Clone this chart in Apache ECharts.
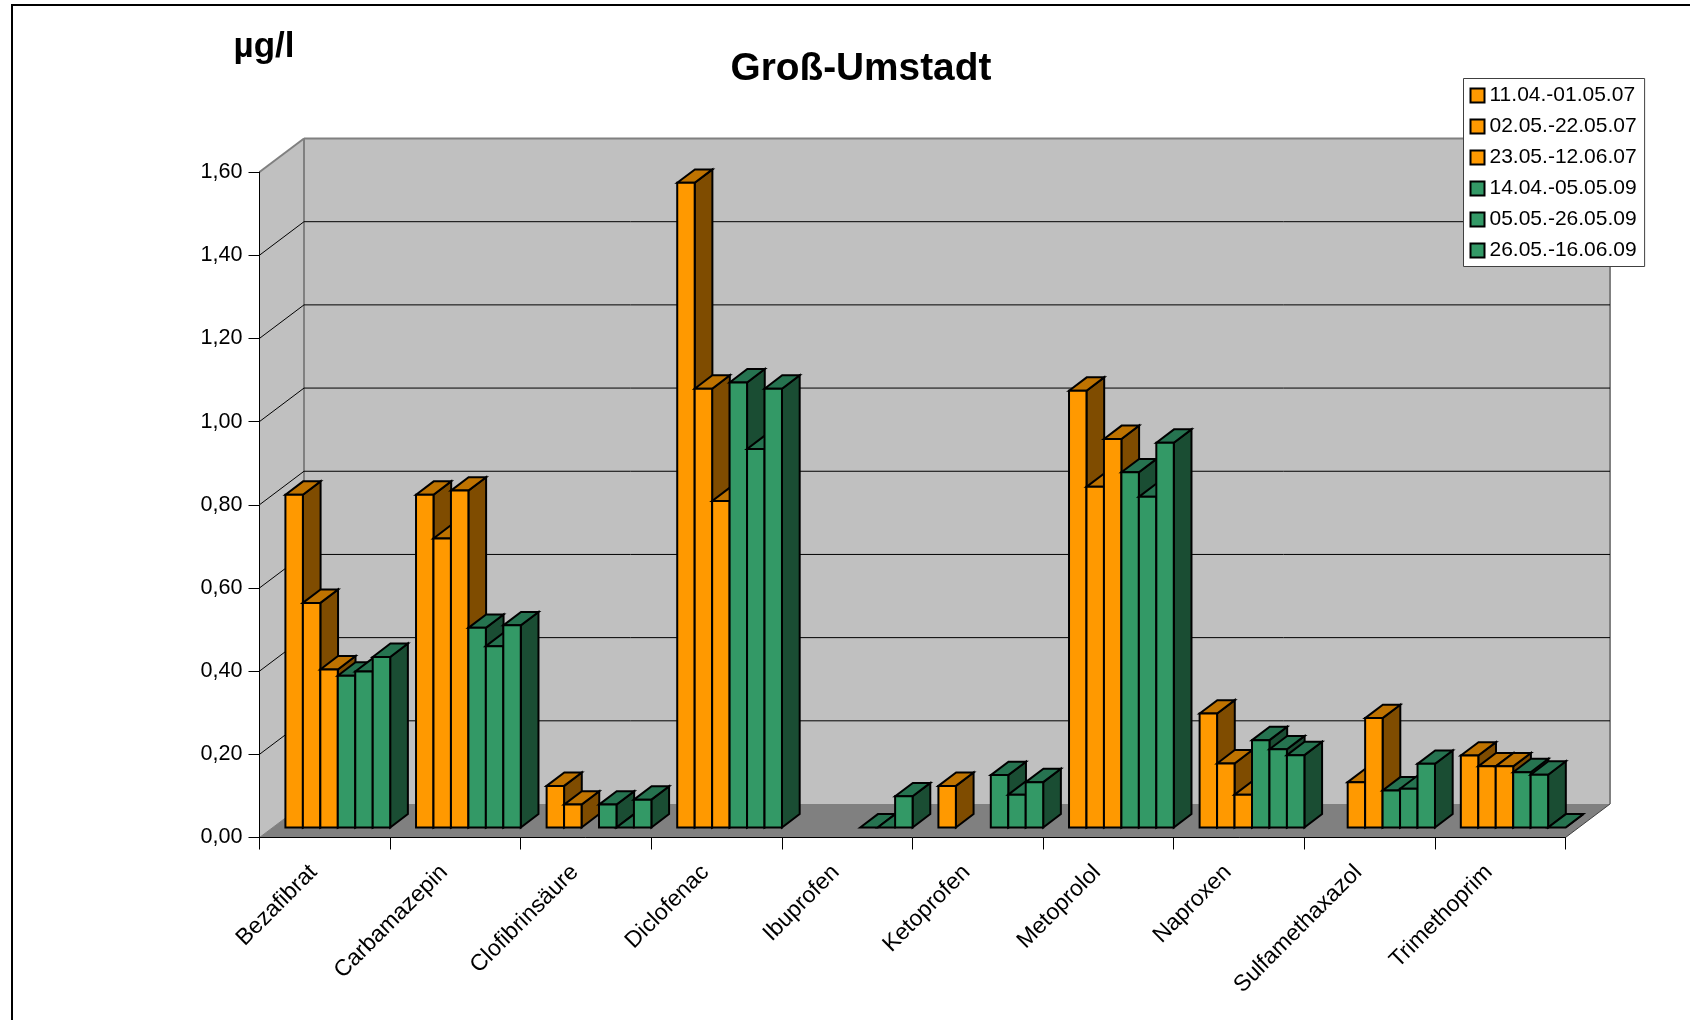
<!DOCTYPE html>
<html>
<head>
<meta charset="utf-8">
<title>Groß-Umstadt</title>
<style>
  html, body { margin: 0; padding: 0; background: #fff; }
  #mainChart { width: 1690px; height: 1020px; }
</style>
<script src="https://cdn.jsdelivr.net/npm/echarts@6/dist/echarts.min.js"></script>
</head>
<body>
<div id="mainChart"></div>
<script>
  var categories = ['Bezafibrat', 'Carbamazepin', 'Clofibrinsäure', 'Diclofenac', 'Ibuprofen', 'Ketoprofen', 'Metoprolol', 'Naproxen', 'Sulfamethaxazol', 'Trimethoprim'];
  var yTicks = [0.2, 0.4, 0.6, 0.8, 1.0, 1.2, 1.4, 1.6];

  var s2007a = [0.80, 0.80, 0.10, 1.55, null, 0.10, 1.05, 0.274, null, 0.173];
  var s2007b = [0.54, 0.695, 0.055, 1.055, null, null, 0.819, 0.154, 0.109, 0.147];
  var s2007c = [0.38, 0.81, null, 0.785, null, null, 0.934, 0.079, 0.263, 0.147];
  var s2009a = [0.365, 0.48, 0.055, 1.07, 0, 0.126, 0.854, 0.21, 0.089, 0.133];
  var s2009b = [0.375, 0.436, 0, 0.91, 0, 0.079, 0.795, 0.188, 0.093, 0.127];
  var s2009c = [0.41, 0.486, 0.067, 1.055, 0.075, 0.109, 0.925, 0.174, 0.153, 0];

  var seriesNames = ['11.04.-01.05.07', '02.05.-22.05.07', '23.05.-12.06.07', '14.04.-05.05.09', '05.05.-26.05.09', '26.05.-16.06.09'];
  var seriesValues = [s2007a, s2007b, s2007c, s2009a, s2009b, s2009c];

  var ORANGE = {front: '#FF9900', top: '#BF7300', side: '#7F4C00'};
  var GREEN = {front: '#339966', top: '#267350', side: '#1A4D33'};
  var seriesColors = [ORANGE, ORANGE, ORANGE, GREEN, GREEN, GREEN];

  // oblique projection offsets, front of the floor -> bars -> back wall
  var WALL_DX = 44.5, WALL_DY = 33.5;
  var GAP_DX = 13, GAP_DY = 10;
  var BAR_DX = 17.7, BAR_DY = 13.4;
  var SLOT_COUNT = 7.48; // six bars plus the gap of the band

  function poly(points, fill, stroke, width) {
    return {
      type: 'polygon',
      shape: {points: points},
      style: {fill: fill, stroke: stroke || null, lineWidth: width || 0, lineJoin: 'miter'}
    };
  }

  function line(x1, y1, x2, y2, color, width) {
    return {
      type: 'line',
      shape: {x1: x1, y1: y1, x2: x2, y2: y2},
      style: {stroke: color, lineWidth: width}
    };
  }

  function renderWalls(params, api) {
    var sys = params.coordSys;
    var l = sys.x, r = sys.x + sys.width;
    var children = [];
    var y0 = api.coord([0, 0])[1];
    var yTop = api.coord([0, 1.6])[1];
    if (params.dataIndex === 0) {
      children.push(poly([[l, yTop], [l + WALL_DX, yTop - WALL_DY], [l + WALL_DX, y0 - WALL_DY], [l, y0]], '#C0C0C0'));
      children.push(poly([[l + WALL_DX, yTop - WALL_DY], [r + WALL_DX, yTop - WALL_DY], [r + WALL_DX, y0 - WALL_DY], [l + WALL_DX, y0 - WALL_DY]], '#C0C0C0'));
      children.push(poly([[l, y0], [l + WALL_DX, y0 - WALL_DY], [r + WALL_DX, y0 - WALL_DY], [r, y0]], '#808080'));
      children.push(line(l + WALL_DX, yTop - WALL_DY, l + WALL_DX, y0 - WALL_DY, '#808080', 2));
      children.push(line(r + WALL_DX, yTop - WALL_DY, r + WALL_DX, y0 - WALL_DY, '#808080', 2));
      children.push(line(l, y0, l + WALL_DX, y0 - WALL_DY, '#808080', 1));
      children.push(line(r, y0, r + WALL_DX, y0 - WALL_DY, '#404040', 1));
    }
    var v = api.value(1);
    var y = api.coord([0, v])[1];
    var isTop = v >= 1.6;
    var c = isTop ? '#808080' : '#000';
    var w = isTop ? 2 : 1;
    children.push(line(l, y, l + WALL_DX, y - WALL_DY, c, w));
    children.push(line(l + WALL_DX, y - WALL_DY, r + WALL_DX, y - WALL_DY, c, w));
    return {type: 'group', children: children};
  }

  function renderBar(params, api) {
    var value = api.value(1);
    if (value === null || isNaN(value)) {
      return;
    }
    var index = params.seriesIndex - 1;
    var colors = seriesColors[index];
    var center = api.coord([api.value(0), 0]);
    var top = api.coord([api.value(0), value]);
    var slot = api.size([1, 0])[0] / SLOT_COUNT;
    var x1 = center[0] + (index - 3) * slot + GAP_DX;
    var x2 = x1 + slot;
    var yb = center[1] - GAP_DY;
    var yt = top[1] - GAP_DY;
    var children = [];
    children.push(poly([[x2, yt], [x2 + BAR_DX, yt - BAR_DY], [x2 + BAR_DX, yb - BAR_DY], [x2, yb]], colors.side, '#000', 2));
    children.push(poly([[x1, yt], [x1 + BAR_DX, yt - BAR_DY], [x2 + BAR_DX, yt - BAR_DY], [x2, yt]], colors.top, '#000', 2));
    if (value > 0) {
      children.push(poly([[x1, yt], [x2, yt], [x2, yb], [x1, yb]], colors.front, '#000', 2));
    }
    return {type: 'group', children: children};
  }

  var series = [{
    name: 'walls',
    type: 'custom',
    silent: true,
    renderItem: renderWalls,
    encode: {x: 0, y: 1},
    data: yTicks.map(function (v) { return [0, v]; })
  }];

  seriesNames.forEach(function (name, i) {
    series.push({
      name: name,
      type: 'custom',
      renderItem: renderBar,
      encode: {x: 0, y: 1},
      itemStyle: {color: seriesColors[i].front},
      data: seriesValues[i].map(function (v, c) { return [c, v]; })
    });
  });

  var FONT = '"Liberation Sans", Arial, sans-serif';

  var myChart = echarts.init(document.getElementById('mainChart'));
  myChart.setOption({
    animation: false,
    backgroundColor: '#fff',
    textStyle: {fontFamily: FONT},
    title: [
      {
        text: 'Groß-Umstadt',
        left: 725.5,
        top: 45,
        textStyle: {fontFamily: FONT, fontSize: 38.8, fontWeight: 'bold', color: '#000'}
      },
      {
        text: 'µg/l',
        left: 228.5,
        top: 25,
        textStyle: {fontFamily: FONT, fontSize: 35, fontWeight: 'bold', color: '#000'}
      }
    ],
    graphic: [{
      type: 'rect',
      z: -1,
      shape: {x: 12, y: 5, width: 1800, height: 1200},
      style: {fill: null, stroke: '#000', lineWidth: 2}
    }],
    legend: {
      data: seriesNames,
      orient: 'vertical',
      left: 1463.5,
      top: 78.5,
      padding: [6, 8, 5, 6],
      itemWidth: 14,
      itemHeight: 14,
      itemGap: 9,
      icon: 'rect',
      backgroundColor: '#fff',
      borderColor: '#404040',
      borderWidth: 1,
      selectedMode: false,
      itemStyle: {borderColor: '#000', borderWidth: 2},
      textStyle: {fontFamily: FONT, fontSize: 21, lineHeight: 22, color: '#000'}
    },
    grid: {left: 259.5, top: 172, width: 1306, height: 665.5},
    xAxis: {
      type: 'category',
      data: categories,
      z: 3,
      axisLine: {lineStyle: {color: '#000', width: 1}},
      axisTick: {show: true, length: 12, lineStyle: {color: '#000', width: 1}},
      axisLabel: {rotate: 45, margin: 20, padding: [0, 16, 0, 0], interval: 0, fontFamily: FONT, fontSize: 23, color: '#000'},
      splitLine: {show: false}
    },
    yAxis: {
      type: 'value',
      min: 0,
      max: 1.6,
      interval: 0.2,
      z: 3,
      axisLine: {show: true, lineStyle: {color: '#000', width: 1}},
      axisTick: {show: true, length: 11, lineStyle: {color: '#000', width: 1}},
      axisLabel: {
        margin: 17,
        fontFamily: FONT,
        fontSize: 21.6,
        color: '#000',
        formatter: function (v) { return v.toFixed(2).replace('.', ','); }
      },
      splitLine: {show: false}
    },
    series: series
  });
</script>
</body>
</html>
